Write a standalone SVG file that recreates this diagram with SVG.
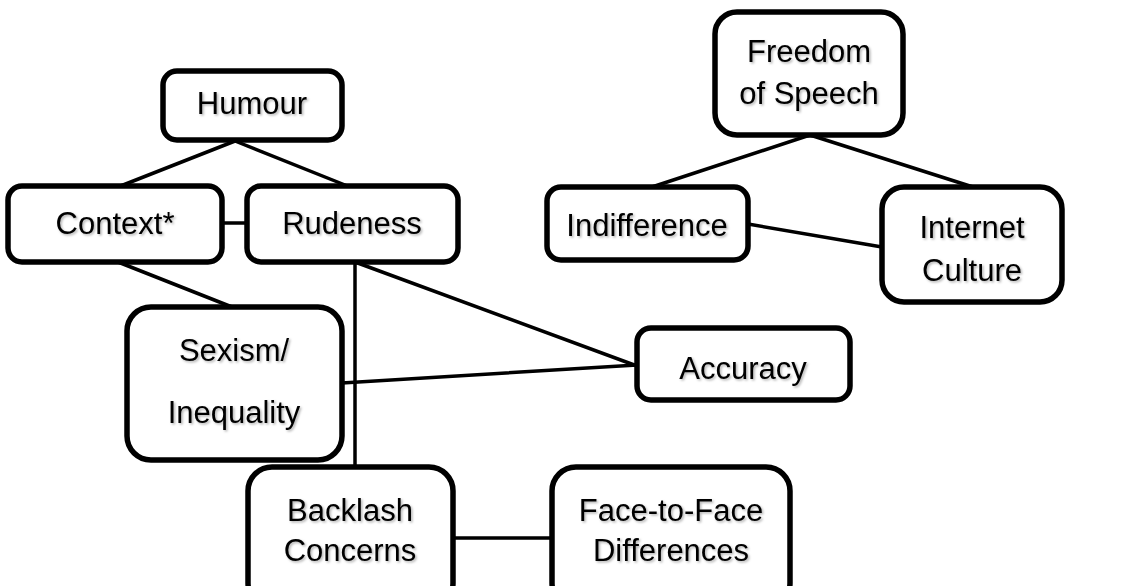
<svg xmlns="http://www.w3.org/2000/svg" width="1128" height="586" viewBox="0 0 1128 586">
<defs>
<filter id="sh" x="-10%" y="-10%" width="130%" height="140%">
<feDropShadow dx="1.5" dy="1.5" stdDeviation="1" flood-color="#000" flood-opacity="0.3"/>
</filter>
<style>
.box{fill:#fff;stroke:#000;stroke-width:5.5}
.t{font-family:"Liberation Sans",Arial,sans-serif;font-size:31px;fill:#000;text-anchor:middle;filter:url(#sh)}
.c{stroke:#000;stroke-width:3.5;fill:none;stroke-linecap:round}
</style>
</defs>
<rect width="1128" height="586" fill="#fff"/>
<g id="connectors">
<line class="c" x1="235" y1="141" x2="118" y2="187"/>
<line class="c" x1="235" y1="141" x2="350" y2="187"/>
<line class="c" x1="222" y1="223" x2="247" y2="223"/>
<line class="c" x1="118" y1="262" x2="232" y2="307"/>
<line class="c" x1="355" y1="262" x2="355" y2="467"/>
<line class="c" x1="355" y1="262" x2="637" y2="366"/>
<line class="c" x1="342" y1="383" x2="637" y2="365"/>
<line class="c" x1="453" y1="538" x2="552" y2="538"/>
<line class="c" x1="810" y1="135" x2="652" y2="187"/>
<line class="c" x1="810" y1="135" x2="973" y2="187"/>
<line class="c" x1="748" y1="224" x2="882" y2="247"/>
</g>
<g id="humour"><rect class="box" x="163" y="71" width="179" height="69" rx="14"/><text class="t" x="252" y="114">Humour</text></g>
<g id="context"><rect class="box" x="8" y="186" width="214" height="76" rx="14"/><text class="t" x="115" y="234">Context*</text></g>
<g id="rudeness"><rect class="box" x="247" y="186" width="211" height="76" rx="14"/><text class="t" x="352" y="234">Rudeness</text></g>
<g id="sexism"><rect class="box" x="127" y="307" width="215" height="153" rx="24"/><text class="t" x="234" y="361">Sexism/</text><text class="t" x="234" y="423">Inequality</text></g>
<g id="accuracy"><rect class="box" x="637" y="328" width="213" height="72" rx="14"/><text class="t" x="743" y="379">Accuracy</text></g>
<g id="backlash"><rect class="box" x="248" y="467" width="205" height="140" rx="24"/><text class="t" x="350" y="521">Backlash</text><text class="t" x="350" y="561">Concerns</text></g>
<g id="facetoface"><rect class="box" x="552" y="467" width="238" height="140" rx="24"/><text class="t" x="671" y="521">Face-to-Face</text><text class="t" x="671" y="561">Differences</text></g>
<g id="freedom"><rect class="box" x="715" y="12" width="188" height="123" rx="22"/><text class="t" x="809" y="62">Freedom</text><text class="t" x="809" y="104">of Speech</text></g>
<g id="indifference"><rect class="box" x="547" y="187" width="201" height="73" rx="14"/><text class="t" x="647" y="236">Indifference</text></g>
<g id="internet"><rect class="box" x="882" y="187" width="180" height="115" rx="22"/><text class="t" x="972" y="238">Internet</text><text class="t" x="972" y="281">Culture</text></g>
</svg>
